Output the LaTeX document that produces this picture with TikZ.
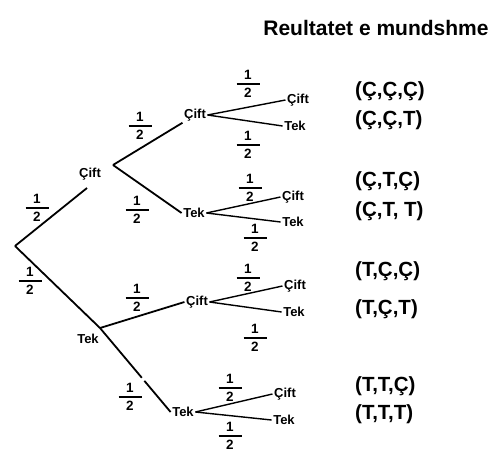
\documentclass[tikz,border=0pt]{standalone}
\usepackage{amsmath}
\usepackage{fontspec}
\setmainfont{Liberation Sans}
\newcommand{\half}{$\genfrac{}{}{1.5pt}{1}{\makebox[23pt]{\bfseries 1\rule[-2pt]{0pt}{2pt}}}{\makebox[23pt]{\bfseries\rule{0pt}{11.5pt}2}}$}
\begin{document}
\begin{tikzpicture}[x=1pt,y=-1pt,
	lbl/.style={font=\bfseries\fontsize{13}{15}\selectfont, inner sep=1.5pt},
	half/.style={font=\bfseries\fontsize{13.5}{15}\selectfont, inner sep=0pt},
	res/.style={font=\bfseries\fontsize{20.5}{24}\selectfont, anchor=west, inner sep=0pt},
	br/.style={line width=1.8pt},
	lf/.style={line width=1.4pt}]
	\useasboundingbox (0,0) rectangle (493,455);
	
	% branch points
	\coordinate (r) at (15,246);
	\coordinate (a1) at (87,188);
	\coordinate (j1) at (113,165);
	\coordinate (j2) at (100,328);
	
	% first toss
	\node[lbl] (c) at (90,174) {Çift};
	\node[lbl] (t) at (88,339) {Tek};
	% second toss
	\node[lbl] (cc) at (195,115) {Çift};
	\node[lbl] (ct) at (194,213) {Tek};
	\node[lbl] (tc) at (197,302) {Çift};
	\node[lbl] (tt) at (183,412) {Tek};
	% third toss
	\foreach \name/\x/\y/\txt in {ccc/298/100/Çift, cct/295/126/Tek, ctc/293/197/Çift, ctt/293/222/Tek,
		tcc/295/286/Çift, tct/294/312/Tek, ttc/285/394/Çift, ttt/284/420/Tek} {
		\node[lbl] (\name) at (\x,\y) {\txt};
	}
	
	% branches
	\draw[br] (r) -- (a1);
	\draw[br] (r) -- (j2);
	\draw[br] (j1) -- (cc.south west);
	\draw[br] (j1) -- (ct.west);
	\draw[br] (j2) -- (tc.west);
	\draw[br, dash pattern=on 65pt off 4pt on 80pt] (j2) -- (tt.west);
	\foreach \p in {cc,ct,tc,tt} {
		\draw[lf] (\p.east) -- (\p c.west);
		\draw[lf] (\p.east) -- (\p t.west);
	}
	
	% probabilities
	\foreach \x/\y [count=\i] in {37/208, 30/281, 140/126, 137/210, 137/298, 130/397, 248/84, 248/145,
		250/188, 255/238, 248/278, 255/338, 230/388, 230/436} {
		\node[half] (h\i) at (\x,\y) {\half};
	}
	
	% outcomes
	\node[font=\bfseries\fontsize{21}{25}\selectfont, inner sep=0pt] (title) at (376,28) {Reultatet e mundshme};
	\foreach \y/\txt [count=\i] in {91/{(Ç,Ç,Ç)}, 120/{(Ç,Ç,T)}, 181/{(Ç,T,Ç)}, 211/{(Ç,T, T)},
		271/{(T,Ç,Ç)}, 309/{(T,Ç,T)}, 386/{(T,T,Ç)}, 414/{(T,T,T)}} {
		\node[res] (o\i) at (355,\y) {\txt};
	}
\end{tikzpicture}
\end{document}
